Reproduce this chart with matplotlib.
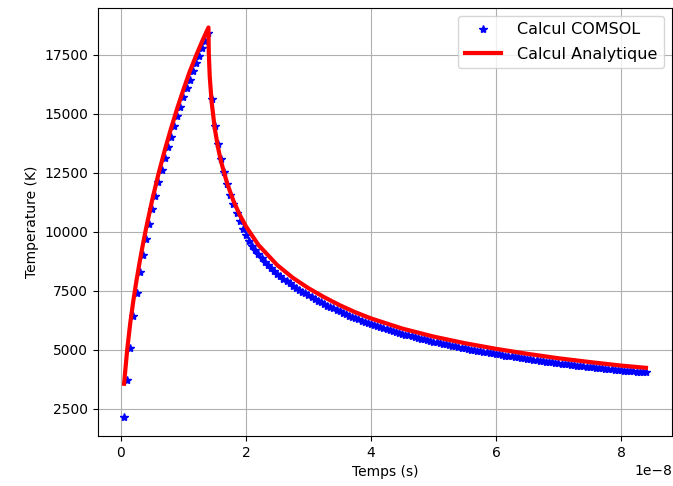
import numpy as np
from matplotlib import pyplot as plt

# COMSOL result: time (ns) and surface temperature (K)
t_comsol_ns = [
    0.5, 1.0, 1.5, 2.0, 2.5, 3.0, 3.5, 4.0, 4.5, 5.0,
    5.5, 6.0, 6.5, 7.0, 7.5, 8.0, 8.5, 9.0, 9.5, 10.0,
    10.5, 11.0, 11.5, 12.0, 12.5, 13.0, 13.5, 14.0, 14.5, 15.0,
    15.5, 16.0, 16.5, 17.0, 17.5, 18.0, 18.5, 19.0, 19.5, 20.0,
    20.5, 21.0, 21.5, 22.0, 22.5, 23.0, 23.5, 24.0, 24.5, 25.0,
    25.5, 26.0, 26.5, 27.0, 27.5, 28.0, 28.5, 29.0, 29.5, 30.0,
    30.5, 31.0, 31.5, 32.0, 32.5, 33.0, 33.5, 34.0, 34.5, 35.0,
    35.5, 36.0, 36.5, 37.0, 37.5, 38.0, 38.5, 39.0, 39.5, 40.0,
    40.5, 41.0, 41.5, 42.0, 42.5, 43.0, 43.5, 44.0, 44.5, 45.0,
    45.5, 46.0, 46.5, 47.0, 47.5, 48.0, 48.5, 49.0, 49.5, 50.0,
    50.5, 51.0, 51.5, 52.0, 52.5, 53.0, 53.5, 54.0, 54.5, 55.0,
    55.5, 56.0, 56.5, 57.0, 57.5, 58.0, 58.5, 59.0, 59.5, 60.0,
    60.5, 61.0, 61.5, 62.0, 62.5, 63.0, 63.5, 64.0, 64.5, 65.0,
    65.5, 66.0, 66.5, 67.0, 67.5, 68.0, 68.5, 69.0, 69.5, 70.0,
    70.5, 71.0, 71.5, 72.0, 72.5, 73.0, 73.5, 74.0, 74.5, 75.0,
    75.5, 76.0, 76.5, 77.0, 77.5, 78.0, 78.5, 79.0, 79.5, 80.0,
    80.5, 81.0, 81.5, 82.0, 82.5, 83.0, 83.5, 84.0,
]
T_comsol = [
    2160, 3700, 5050, 6400, 7380, 8300, 9020, 9690, 10330, 10950,
    11520, 12080, 12600, 13100, 13570, 14020, 14460, 14880, 15290, 15690,
    16070, 16440, 16790, 17130, 17450, 17770, 18080, 18400, 15610, 14490,
    13700, 13070, 12520, 12030, 11570, 11150, 10770, 10430, 10125, 9850,
    9610, 9400, 9210, 9030, 8870, 8720, 8575, 8440, 8310, 8195,
    8100, 7995, 7895, 7800, 7710, 7620, 7535, 7455, 7375, 7300,
    7220, 7145, 7070, 7000, 6930, 6865, 6800, 6740, 6675, 6615,
    6555, 6500, 6440, 6385, 6330, 6275, 6225, 6175, 6130, 6080,
    6035, 5990, 5950, 5905, 5865, 5825, 5785, 5745, 5710, 5670,
    5635, 5600, 5565, 5530, 5495, 5460, 5430, 5395, 5365, 5335,
    5305, 5275, 5245, 5215, 5185, 5160, 5130, 5105, 5080, 5050,
    5025, 5000, 4975, 4950, 4930, 4905, 4880, 4855, 4835, 4810,
    4790, 4770, 4745, 4725, 4705, 4685, 4665, 4645, 4625, 4605,
    4585, 4565, 4545, 4530, 4510, 4490, 4475, 4455, 4440, 4420,
    4405, 4390, 4370, 4355, 4340, 4320, 4305, 4290, 4275, 4260,
    4245, 4230, 4215, 4200, 4185, 4170, 4155, 4140, 4125, 4115,
    4100, 4090, 4080, 4070, 4060, 4050, 4045, 4040,
]

# analytic solution: time (ns) and temperature (K)
t_analytic_ns = [
    0.5, 1.0, 1.5, 2.0, 2.5, 3.0, 3.5, 4.0, 5.0, 6.0,
    7.0, 8.0, 9.0, 10.0, 11.0, 12.0, 13.0, 14.0, 14.05, 14.2,
    14.5, 15.0, 15.5, 16.0, 17.0, 18.0, 19.0, 20.0, 22.0, 25.0,
    27.5, 30.0, 32.5, 35.0, 37.5, 40.0, 45.0, 50.0, 55.0, 60.0,
    65.0, 70.0, 75.0, 80.0, 84.0,
]
T_analytic = [
    3550, 5000, 6150, 7100, 7950, 8720, 9440, 10110, 11340, 12440,
    13440, 14360, 15220, 16020, 16780, 17440, 18070, 18650, 17590, 16590,
    15510, 14390, 13600, 12980, 12030, 11300, 10710, 10220, 9430, 8580,
    8040, 7600, 7220, 6880, 6580, 6320, 5890, 5550, 5270, 5030,
    4820, 4630, 4470, 4320, 4225,
]

t_comsol = np.array(t_comsol_ns) * 1e-9
t_analytic = np.array(t_analytic_ns) * 1e-9

fig = plt.figure(figsize=(6.73, 4.86), dpi=100)
ax = fig.add_axes([0.1456, 0.1029, 0.853, 0.8806])

ax.plot(t_comsol, T_comsol, "b*", label="Calcul COMSOL")
ax.plot(t_analytic, T_analytic, "r-", linewidth=3, label="Calcul Analytique")

ax.set_xlabel("Temps (s)")
ax.set_ylabel("Temperature (K)")
ax.grid()
ax.legend(
    loc="upper right",
    fontsize=11.5,
    handlelength=2.3,
    handletextpad=1.0,
    labelspacing=0.6,
)

fig.savefig("out.png", dpi=100)
